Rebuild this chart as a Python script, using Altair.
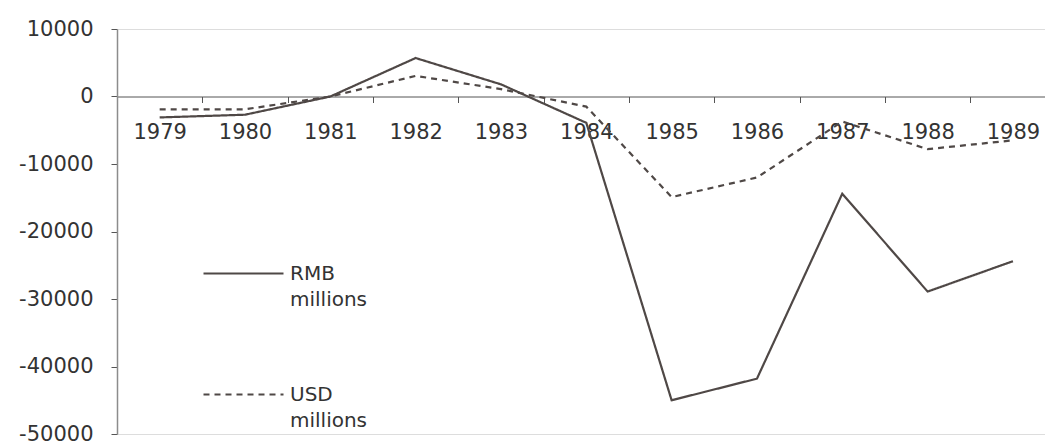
import altair as alt
import pandas as pd

years = ["1979", "1980", "1981", "1982", "1983", "1984", "1985", "1986", "1987", "1988", "1989"]
rmb = [-3100, -2700, 0, 5700, 1800, -3900, -45000, -41800, -14400, -28900, -24400]
usd = [-1900, -1900, 0, 3050, 1100, -1500, -14900, -12000, -3700, -7800, -6500]
series = ["RMB millions", "USD millions"]
y_ticks = [10000, 0, -10000, -20000, -30000, -40000, -50000]

rows = []
for s, vals in zip(series, [rmb, usd]):
    for yr, v in zip(years, vals):
        rows.append({"year": yr, "value": v, "series": s})
df = pd.DataFrame(rows)

W, H = 928, 405
line_color = "#4f4846"
font = "DejaVu Sans"

chart = alt.Chart(df).mark_line(strokeWidth=2.2, color=line_color).encode(
    x=alt.X(
        "year:O",
        sort=years,
        bandPosition=0.5,
        scale=alt.Scale(type="band", range=[0, 938.6], paddingInner=0, paddingOuter=0),
        axis=alt.Axis(
            title=None, orient="bottom", offset=-337.5, tickBand="extent",
            labelAngle=0, tickSize=6, labelPadding=19, domainColor="#555555",
            tickColor="#555555", labelColor="#333333", labelFontSize=21,
            labelFont=font, grid=False,
        ),
    ),
    y=alt.Y(
        "value:Q",
        scale=alt.Scale(domain=[-50000, 10000], nice=False, zero=False),
        axis=alt.Axis(
            title=None, values=y_ticks, labelExpr="'' + datum.value",
            tickSize=6, labelPadding=18,
            domainColor="#8c8c8c", domainWidth=1.5, tickColor="#555555",
            labelColor="#333333", labelFontSize=21, labelFont=font, grid=False,
        ),
    ),
    strokeDash=alt.StrokeDash(
        "series:N",
        scale=alt.Scale(domain=series, range=[[1, 0], [6, 5]]),
        legend=alt.Legend(
            title=None, orient="none", legendX=85, legendY=193,
            symbolType="M-1,0.25H1", symbolSize=6400, symbolStrokeWidth=2.2,
            symbolStrokeColor=line_color, symbolFillColor="transparent",
            labelExpr="split(datum.label, ' ')",
            labelFontSize=20, labelFont=font, labelColor="#333333",
            labelBaseline="top", labelOffset=5, rowPadding=33, padding=0,
            labelLimit=300,
        ),
    ),
).properties(
    width=W, height=H,
    autosize=alt.AutoSizeParams(type="none"),
    padding={"left": 117, "top": 29, "right": 0, "bottom": 9},
).configure_view(stroke=None).configure(
    style={"guide-label": {"lineHeight": 26}}
)

chart.save("out.html", embed_options={"renderer": "svg", "actions": False})
